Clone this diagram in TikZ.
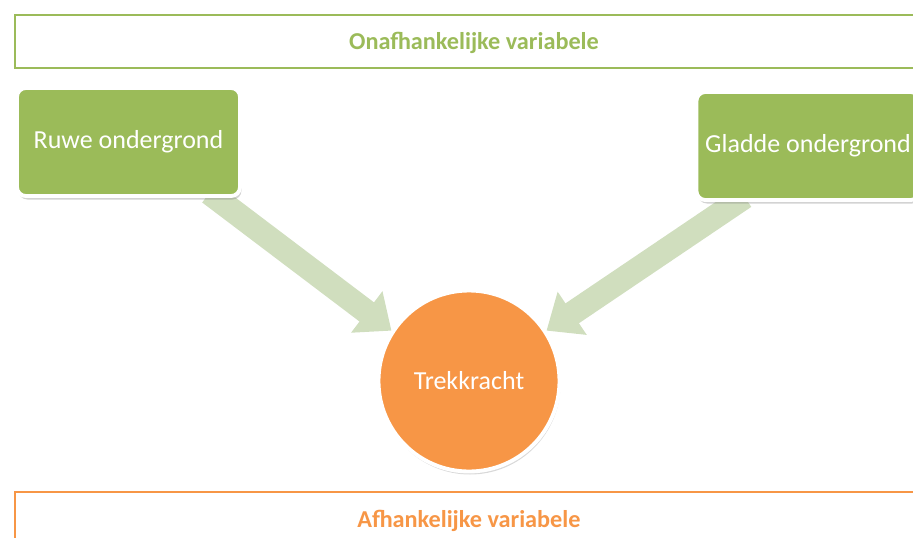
\documentclass[tikz,border=0pt]{standalone}
\usepackage{fontspec}
\setmainfont{Carlito}
\definecolor{factgreen}{RGB}{155, 187, 89}
\definecolor{bandgreen}{RGB}{208, 222, 190}
\definecolor{resporange}{RGB}{247, 150, 70}
\usetikzlibrary{shapes, arrows.meta, positioning, calc, shadows, backgrounds}
\tikzset{
  varbox/.style={draw=#1, line width=1.7pt, fill=white},
  factorbox/.style={draw=white, line width=2.2pt, fill=factgreen, rounded corners=5pt, minimum width=4.46cm, minimum height=2.16cm, text=white, font=\fontsize{14.8}{17}\selectfont, drop shadow={opacity=0.35, shadow xshift=0.03cm, shadow yshift=-0.07cm}},
  bandarrow/.style={draw=bandgreen, line width=0.48cm, -{Triangle[width=1.0cm, length=0.62cm]}}
}

\begin{document}
\begin{tikzpicture}
  \useasboundingbox (0,0) rectangle (18.26,-10.76);
  \clip (0,0) rectangle (18.26,-10.76);

  % Independent variable
  \draw[varbox=factgreen] (0.3,-0.3) rectangle (19.0,-1.36);
  \node[font=\fontsize{13.8}{16}\selectfont\bfseries, text=factgreen] (onaf) at (9.48,-0.86) {Onafhankelijke variabele};

  % Factors
  \node[factorbox] (ruwe) at (2.57,-2.84) {Ruwe ondergrond};
  \node[factorbox] (gladde) at (16.16,-2.92) {Gladde ondergrond};

  % Response
  \node[circle, draw=white, line width=2.2pt, fill=resporange, minimum size=3.62cm, text=white, font=\fontsize{14.8}{17}\selectfont, drop shadow={opacity=0.3, shadow xshift=0.02cm, shadow yshift=-0.06cm}] (trek) at (9.38,-7.62) {Trekkracht};

  % Arrows
  \begin{pgfonlayer}{background}
    \draw[bandarrow] ($(ruwe.south east)+(-0.65,0.1)$) -- (trek.147);
    \draw[bandarrow] ($(gladde.south west)+(1.0,0.1)$) -- (trek.33);
  \end{pgfonlayer}

  % Dependent variable
  \draw[varbox=resporange] (0.3,-9.84) rectangle (19.0,-11.2);
  \node[font=\fontsize{13.8}{16}\selectfont\bfseries, text=resporange] (afh) at (9.38,-10.42) {Afhankelijke variabele};
\end{tikzpicture}
\end{document}
